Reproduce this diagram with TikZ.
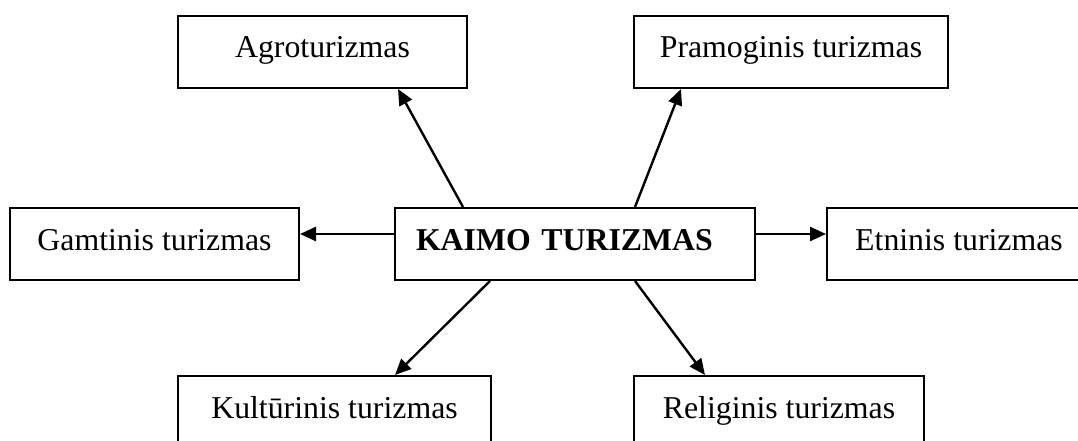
\documentclass[tikz,border=0pt]{standalone}
\usepackage{fontspec}
\setmainfont{Liberation Serif}
\usetikzlibrary{arrows.meta,calc}
\begin{document}
\begin{tikzpicture}[x=1pt,y=-1pt,
  box/.style={draw,line width=2pt,anchor=north west,minimum height=72pt,inner sep=0pt,
    text height=26pt,text depth=14pt,font=\fontsize{31.8}{38}\selectfont},
  conn/.style={line width=2.4pt,-{Triangle[length=16pt,width=14pt]}}]
\useasboundingbox (0,0) rectangle (1078,441);
\clip (0,0) rectangle (1078,441);
\node[box,minimum width=289pt] (agro) at (177,15) {Agroturizmas};
\node[box,minimum width=314pt] (pram) at (633,15) {Pramoginis turizmas};
\node[box,minimum width=289pt] (gamt) at (9,207) {Gamtinis turizmas};
\node[box,minimum width=360pt,text width=318pt,align=left,inner xsep=21pt,
  font={\fontsize{31.8}{38}\selectfont\bfseries}] (kaimo) at (394,207) {KAIMO TURIZMAS};
\node[box,minimum width=264pt] (etn) at (826,207) {Etninis turizmas};
\node[box,minimum width=313pt] (kult) at (177,375) {Kultūrinis turizmas};
\node[box,minimum width=290pt] (rel) at (633,375) {Religinis turizmas};
% connector end points
\coordinate (kA) at ($(kaimo.north west)+(69,0)$);
\coordinate (kP) at ($(kaimo.north west)+(241,0)$);
\coordinate (kG) at ($(kaimo.west)+(0,-10)$);
\coordinate (kE) at ($(kaimo.east)+(0,-10)$);
\coordinate (kK) at ($(kaimo.south west)+(96,0)$);
\coordinate (kR) at ($(kaimo.south west)+(241,0)$);
\coordinate (tA) at ($(agro.south west)+(221,0)$);
\coordinate (tP) at ($(pram.south west)+(48,0)$);
\coordinate (tG) at ($(gamt.east)+(0,-10)$);
\coordinate (tE) at ($(etn.west)+(0,-10)$);
\coordinate (tK) at ($(kult.north west)+(218,0)$);
\coordinate (tR) at ($(rel.north west)+(72,0)$);
\draw[conn] (kA) -- (tA);
\draw[conn] (kP) -- (tP);
\draw[conn] (kG) -- (tG);
\draw[conn] (kE) -- (tE);
\draw[conn] (kK) -- (tK);
\draw[conn] (kR) -- (tR);
\end{tikzpicture}
\end{document}
